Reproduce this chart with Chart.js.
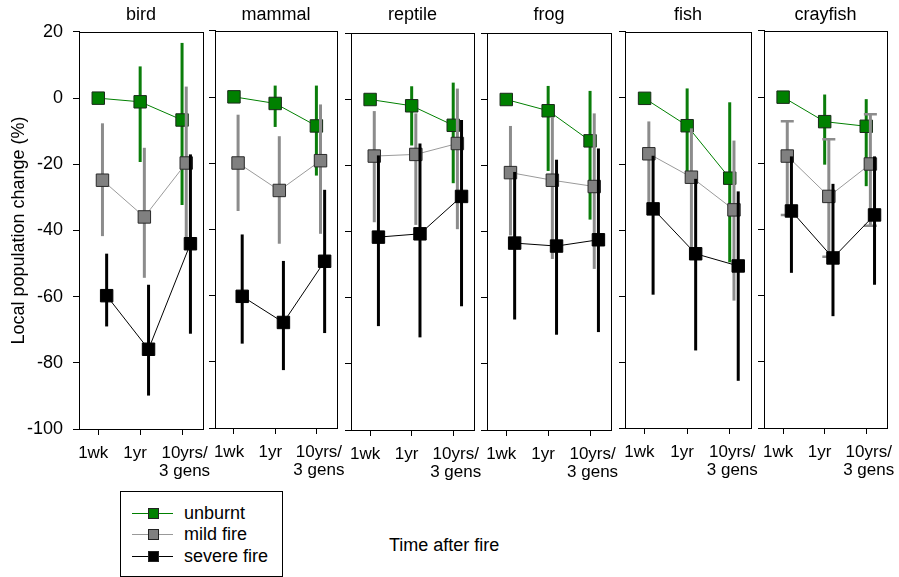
<!DOCTYPE html>
<html>
<head>
<meta charset="utf-8">
<script src="https://cdn.jsdelivr.net/npm/chart.js@4.4.0/dist/chart.umd.min.js"></script>
<style>
  body { margin: 0; width: 899px; height: 577px; overflow: hidden; background: #fff; position: relative;
         font-family: "Liberation Sans", Arial, sans-serif; color: #000; }
  canvas { position: absolute; top: 0; }
  #legend { position: absolute; left: 120px; top: 491px; width: 163px; height: 86px; border: 1px solid #000; box-sizing: border-box; }
  #legend .row { position: absolute; left: 0; height: 0; }
  #legend .ln { position: absolute; left: 11px; width: 41px; top: 0; height: 1px; }
  #legend .mk { position: absolute; left: 27px; top: -5px; width: 11px; height: 11px; border: 1px solid #222; box-sizing: border-box; }
  #legend .tx { position: absolute; left: 63px; top: -11px; font-size: 18px; line-height: 22px; white-space: nowrap; }
  #xtitle { position: absolute; left: 389px; top: 534px; font-size: 18px; line-height: 22px; white-space: nowrap; }
</style>
</head>
<body>
<div id="legend">
  <div class="row" style="top:21px"><span class="ln" style="background:#008000"></span><span class="mk" style="background:#008000"></span><span class="tx">unburnt</span></div>
  <div class="row" style="top:42px"><span class="ln" style="background:#999"></span><span class="mk" style="background:#808080"></span><span class="tx">mild fire</span></div>
  <div class="row" style="top:64px"><span class="ln" style="background:#000"></span><span class="mk" style="background:#000"></span><span class="tx">severe fire</span></div>
</div>
<div id="xtitle">Time after fire</div>
<script>
// categories / labels
const panels = ['bird', 'mammal', 'reptile', 'frog', 'fish', 'crayfish'];
const seriesNames = ['unburnt', 'mild fire', 'severe fire'];
const categories = ['1wk', '1yr', ['10yrs/', '3 gens']];
const yTicks = [20, 0, -20, -40, -60, -80, -100];
const yTitle = 'Local population change (%)';

// values (mean) and error bars [upper, lower]
const birdUnburnt = [0, -1.1, -6.6];
const birdUnburntErr = [null, [9.6, -19.3], [16.7, -32.3]];
const birdMild = [-24.8, -35.9, -19.6];
const birdMildErr = [[-7.6, -41.7], [-15, -54.3], [3.5, -43]];
const birdSevere = [-59.7, -75.9, -44];
const birdSevereErr = [[-47, -69], [-56.4, -89.9], [-17, -71.2]];

const mammalUnburnt = [0.1, -1.9, -8.7];
const mammalUnburntErr = [null, [3.5, -9], [3.5, -23.7]];
const mammalMild = [-19.9, -28.2, -19.2];
const mammalMildErr = [[-5.3, -34.4], [-11.8, -44.3], [-2.2, -41.3]];
const mammalSevere = [-60.2, -68.1, -49.6];
const mammalSevereErr = [[-41.5, -74.5], [-49.5, -82.5], [-28, -71.3]];

const reptileUnburnt = [-0.1, -2, -7.9];
const reptileUnburntErr = [null, [3.9, -14], [5, -25.4]];
const reptileMild = [-17.2, -16.7, -13.4];
const reptileMildErr = [[-3.6, -37.2], [-4.3, -38], [3.2, -39.3]];
const reptileSevere = [-41.7, -40.7, -29.4];
const reptileSevereErr = [[-17, -68.6], [-13.4, -72], [-6.3, -62.6]];

const frogUnburnt = [-0.1, -3.5, -12.6];
const frogUnburntErr = [null, [4, -21.7], [2.5, -36.4]];
const frogMild = [-22.2, -24.5, -26.4];
const frogMildErr = [[-8.1, -41.2], [-5.4, -48.3], [-4.3, -51.3]];
const frogSevere = [-43.5, -44.4, -42.5];
const frogSevereErr = [[-22, -66.6], [-18.3, -71.2], [-14.9, -70.4]];

const fishUnburnt = [-0.1, -8.4, -24.3];
const fishUnburntErr = [null, [2.9, -24], [-1.3, -49.8]];
const fishMild = [-16.9, -24, -33.9];
const fishMildErr = [[-7.1, -35], [-9.2, -46], [-12.9, -61.4]];
const fishSevere = [-33.6, -47.2, -50.9];
const fishSevereErr = [[-17.5, -59.6], [-24.5, -76.5], [-28.3, -85.7]];

const crayfishUnburnt = [0, -7.4, -8.8];
const crayfishUnburntErr = [null, [0.8, -20.4], [-0.6, -26.9]];
const crayfishMild = [-17.8, -30, -20.2];
const crayfishMildErr = [[-7.3, -35.6], [-12.7, -48.2], [-5.2, -38.9]];
const crayfishSevere = [-34.4, -48.6, -35.6];
const crayfishSevereErr = [[-17.9, -53.1], [-26.2, -66.2], [-17.9, -56.7]];

const panelSeries = [
  [[birdUnburnt, birdUnburntErr], [birdMild, birdMildErr], [birdSevere, birdSevereErr]],
  [[mammalUnburnt, mammalUnburntErr], [mammalMild, mammalMildErr], [mammalSevere, mammalSevereErr]],
  [[reptileUnburnt, reptileUnburntErr], [reptileMild, reptileMildErr], [reptileSevere, reptileSevereErr]],
  [[frogUnburnt, frogUnburntErr], [frogMild, frogMildErr], [frogSevere, frogSevereErr]],
  [[fishUnburnt, fishUnburntErr], [fishMild, fishMildErr], [fishSevere, fishSevereErr]],
  [[crayfishUnburnt, crayfishUnburntErr], [crayfishMild, crayfishMildErr], [crayfishSevere, crayfishSevereErr]]
];

// layout: plot box per panel [left, right, top, bottom]
const panelBoxes = [[79, 203, 32, 429], [215, 337, 31, 428], [351, 474, 33, 430],
                    [487, 611, 33, 430], [625, 751, 32, 428], [764, 887, 31, 428]];
const H = 490;
const seriesShift = [0, 0.1, 0.2];
const labelPos = [-0.12, -0.12 + 1, 2.06];
const fills = ['#008000', '#808080', '#000000'];
const edges = ['#1a2a1a', '#2a2a2a', '#000000'];
const lineColors = ['#008000', '#9a9a9a', '#000000'];
const errColors = ['#0a7d0a', '#8c8c8c', '#000000'];
const FONT = '"Liberation Sans", Arial, sans-serif';

const errorBars = {
  id: 'errorBars',
  beforeDatasetDraw(chart, args) {
    const ds = chart.data.datasets[args.index];
    const ctx = chart.ctx;
    const xs = chart.scales.x, ys = chart.scales.y;
    ctx.save();
    ctx.strokeStyle = ds.errColor;
    ds.errors.forEach((e, i) => {
      if (!e) return;
      const px = xs.getPixelForValue(ds.data[i].x);
      const y1 = ys.getPixelForValue(e[0]);
      const y2 = ys.getPixelForValue(e[1]);
      ctx.lineWidth = 3;
      ctx.beginPath();
      ctx.moveTo(px, y1);
      ctx.lineTo(px, y2);
      ctx.stroke();
      if (ds.caps) {
        ctx.lineWidth = 2.5;
        ctx.beginPath();
        ctx.moveTo(px - 6.5, y1); ctx.lineTo(px + 6.5, y1);
        ctx.moveTo(px - 6.5, y2); ctx.lineTo(px + 6.5, y2);
        ctx.stroke();
      }
    });
    ctx.restore();
  }
};

const frame = {
  id: 'frame',
  beforeDatasetsDraw(chart) {
    const a = chart.chartArea;
    const ctx = chart.ctx;
    ctx.save();
    ctx.strokeStyle = '#000';
    ctx.lineWidth = 1;
    ctx.strokeRect(Math.round(a.left) + 0.5, Math.round(a.top) + 0.5, Math.round(a.right - a.left), Math.round(a.bottom - a.top));
    ctx.restore();
  }
};

panels.forEach((name, k) => {
  const [left, right, top, bottom] = panelBoxes[k];
  const first = k === 0;
  const padL = first ? left : 12;
  const padR = 30;
  const canvas = document.createElement('canvas');
  canvas.width = padL + (right - left) + padR;
  canvas.height = H;
  canvas.style.left = (left - padL) + 'px';
  canvas.style.width = canvas.width + 'px';
  canvas.style.height = H + 'px';
  document.body.appendChild(canvas);

  const datasets = panelSeries[k].map(([vals, errs], s) => ({
    label: seriesNames[s],
    data: vals.map((v, i) => ({ x: i + seriesShift[s], y: v })),
    errors: errs,
    errColor: errColors[s],
    caps: name === 'crayfish' && s === 1,
    borderColor: lineColors[s],
    borderWidth: 1,
    pointStyle: 'rect',
    pointRadius: 8.8,
    pointBackgroundColor: fills[s],
    pointBorderColor: edges[s],
    pointBorderWidth: 1,
    tension: 0,
    order: 2 - s
  }));

  new Chart(canvas, {
    type: 'line',
    data: { datasets },
    plugins: [frame, errorBars],
    options: {
      responsive: false,
      animation: false,
      events: [],
      devicePixelRatio: 1,
      layout: { padding: { left: 0, right: padR, top: 0, bottom: H - 57 - bottom } },
      plugins: {
        legend: { display: false },
        tooltip: { enabled: false },
        title: {
          display: true, text: name, fullSize: false, color: '#000',
          font: { family: FONT, size: 18, weight: 'normal' },
          padding: { top: 4, bottom: top - 25.6 }
        }
      },
      scales: {
        x: {
          type: 'linear', position: 'bottom', min: -0.46, max: 2.5, weight: 0,
          afterBuildTicks: (s) => { s.ticks = [0, 1, 2].map(v => ({ value: v })); },
          afterFit: (s) => { s.height = 7; s.paddingLeft = 0; s.paddingRight = 0; },
          ticks: { display: false },
          grid: { drawOnChartArea: false, drawTicks: true, tickLength: 6, color: '#000', lineWidth: 1 },
          border: { display: true, color: '#000', width: 1 }
        },
        xl: {
          axis: 'x', type: 'linear', position: 'bottom', min: -0.46, max: 2.5, weight: 1,
          afterBuildTicks: (s) => { s.ticks = labelPos.map(v => ({ value: v })); },
          afterFit: (s) => { s.height = 50; s.paddingLeft = 0; s.paddingRight = 0; },
          ticks: {
            callback: (v, i) => categories[i],
            autoSkip: false, maxRotation: 0, minRotation: 0, padding: 8,
            color: '#000', font: { family: FONT, size: 17, lineHeight: 1.08 }
          },
          grid: { display: false, drawTicks: false },
          border: { display: false }
        },
        y: {
          type: 'linear', position: 'left', min: yTicks[yTicks.length - 1], max: yTicks[0],
          afterBuildTicks: (s) => { s.ticks = yTicks.map(v => ({ value: v })); },
          afterFit: (s) => { s.width = padL; },
          ticks: { display: first, padding: 10, color: '#000', font: { family: FONT, size: 18 } },
          grid: { drawOnChartArea: false, drawTicks: true, tickLength: 6, color: '#000', lineWidth: 1 },
          border: { display: true, color: '#000', width: 1 },
          title: {
            display: first, text: yTitle, color: '#000',
            font: { family: FONT, size: 18 }, padding: { top: 8.5, bottom: 0 }
          }
        }
      }
    }
  });
});
</script>
</body>
</html>
